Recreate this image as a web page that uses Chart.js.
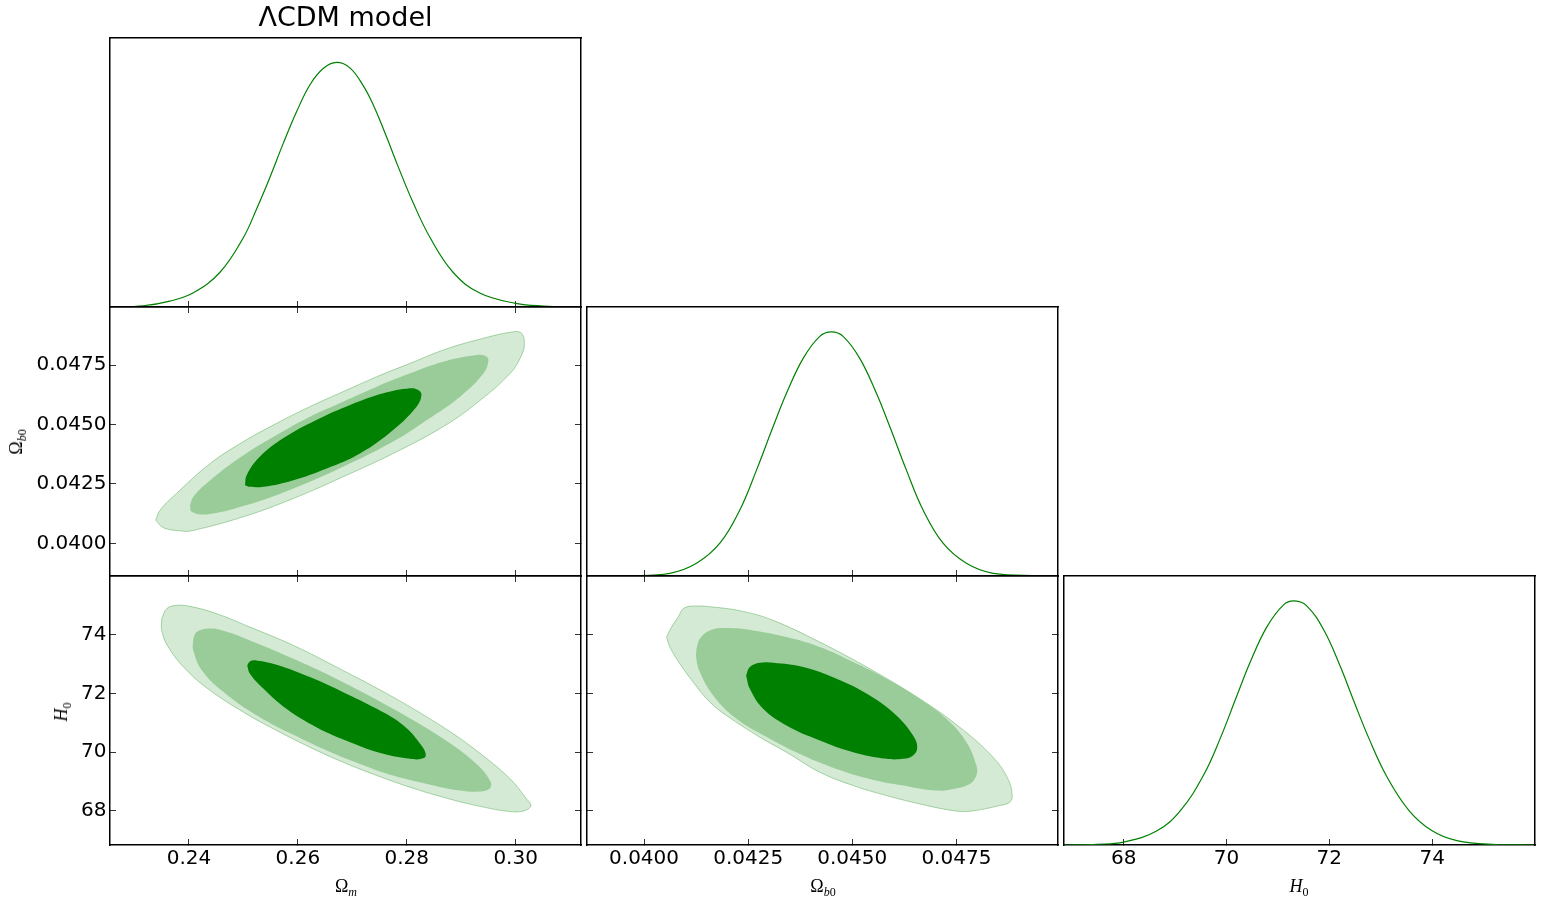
<!DOCTYPE html>
<html>
<head>
<meta charset="utf-8">
<title>ΛCDM model</title>
<script src="https://cdn.jsdelivr.net/npm/chart.js"></script>
<style>
  body { margin: 0; background: #fff; }
  #wrap { position: relative; width: 1545px; height: 911px; overflow: hidden; }
  canvas { position: absolute; }
  .lab { position: absolute; font-family: "Liberation Serif", serif; font-size: 18px; color: #000; white-space: nowrap; transform: translate(-50%, -50%); }
  .lab sub { font-size: 12px; vertical-align: -4px; }
  .rot { transform: translate(-50%, -50%) rotate(-90deg); }
</style>
</head>
<body>
<div id="wrap">
  <canvas id="p11" width="611" height="352" style="left:0px;top:0px"></canvas>
  <canvas id="p21" width="611" height="344" style="left:0px;top:277px"></canvas>
  <canvas id="p22" width="611" height="344" style="left:477px;top:277px"></canvas>
  <canvas id="p31" width="611" height="344" style="left:0px;top:546px"></canvas>
  <canvas id="p32" width="611" height="344" style="left:477px;top:546px"></canvas>
  <canvas id="p33" width="611" height="344" style="left:954px;top:546px"></canvas>
  <div class="lab" style="left:346px;top:888px">Ω<sub><i>m</i></sub></div>
  <div class="lab" style="left:823px;top:888px">Ω<sub><i>b</i>0</sub></div>
  <div class="lab" style="left:1299px;top:888px"><i>H</i><sub>0</sub></div>
  <div class="lab rot" style="left:18px;top:442px">Ω<sub><i>b</i>0</sub></div>
  <div class="lab rot" style="left:63px;top:712px"><i>H</i><sub>0</sub></div>
</div>
<script>
const omTicks = [0.24, 0.26, 0.28, 0.30];
const obTicks = [0.0400, 0.0425, 0.0450, 0.0475];
const h0Ticks = [68, 70, 72, 74];

const omRange = [0.2255, 0.3120];
const obRange = [0.03863, 0.04994];
const h0Range = [66.84, 76.0];
const pdfRange = [0, 1.1];

// 1D marginals (relative density)
const omGrid = [0.2255, 0.2316, 0.2365, 0.2408, 0.2457, 0.2500, 0.2524, 0.2549, 0.2573, 0.2598, 0.2622, 0.2647, 0.2671,
  0.2696, 0.2720, 0.2739, 0.2763, 0.2784, 0.2812, 0.2843, 0.2885, 0.2934, 0.3000, 0.3051, 0.3118];
const omPdf = [0, 0.005, 0.024, 0.058, 0.142, 0.284, 0.400, 0.532, 0.668, 0.800, 0.908, 0.976, 1.0,
  0.977, 0.905, 0.824, 0.695, 0.575, 0.425, 0.283, 0.142, 0.057, 0.015, 0.004, 0];

const obGrid = [0.03866, 0.03966, 0.04062, 0.04126, 0.04182, 0.04230, 0.04270, 0.04310, 0.04342, 0.04382, 0.04422, 0.04450,
  0.04478, 0.04518, 0.04558, 0.04590, 0.04630, 0.04670, 0.04718, 0.04774, 0.04838, 0.04950, 0.04992];
const obPdf = [0, 0.001, 0.011, 0.052, 0.134, 0.270, 0.433, 0.611, 0.747, 0.890, 0.980, 0.998,
  0.980, 0.890, 0.747, 0.611, 0.433, 0.270, 0.134, 0.052, 0.011, 0.001, 0];

const h0Grid = [66.84, 67.48, 68.0, 68.64, 69.10, 69.55, 69.88, 70.20, 70.46, 70.78, 71.11, 71.32,
  71.56, 71.89, 72.21, 72.47, 72.77, 73.12, 73.55, 74.0, 74.48, 75.26, 75.97];
const h0Pdf = [0, 0.003, 0.012, 0.057, 0.140, 0.284, 0.437, 0.609, 0.747, 0.890, 0.982, 0.998,
  0.978, 0.880, 0.732, 0.592, 0.436, 0.279, 0.141, 0.058, 0.018, 0.002, 0];

// 2D credible regions, outlines as [x, y]
const omOb1s = [[0.2503, 0.04245], [0.2512, 0.04238], [0.2537, 0.04238], [0.2592, 0.04266], [0.2653, 0.04315], [0.2714, 0.04378],
  [0.2775, 0.04477], [0.2818, 0.04575], [0.2827, 0.04624], [0.2821, 0.04645], [0.2806, 0.04652], [0.2757, 0.04631],
  [0.2696, 0.04582], [0.2634, 0.04519], [0.2573, 0.04442], [0.2530, 0.04364], [0.2506, 0.04287], [0.2503, 0.04245]];
const omOb2s = [[0.2402, 0.04161], [0.2405, 0.04133], [0.2432, 0.04122], [0.2500, 0.04157], [0.2592, 0.04231], [0.2683, 0.04322],
  [0.2775, 0.04428], [0.2837, 0.04519], [0.2898, 0.04617], [0.2941, 0.04715], [0.2950, 0.04771], [0.2944, 0.04789],
  [0.2928, 0.04792], [0.2867, 0.04764], [0.2806, 0.04715], [0.2745, 0.04659], [0.2683, 0.04596], [0.2622, 0.04533],
  [0.2561, 0.04456], [0.2500, 0.04371], [0.2439, 0.04266], [0.2408, 0.04196], [0.2402, 0.04161]];
const omOb3s = [[0.2339, 0.04098], [0.2353, 0.04066], [0.2387, 0.04052], [0.2405, 0.04053], [0.2500, 0.04112], [0.2592, 0.04189],
  [0.2683, 0.04280], [0.2775, 0.04378], [0.2867, 0.04491], [0.2928, 0.04589], [0.2990, 0.04715], [0.3011, 0.04792],
  [0.3016, 0.04841], [0.3011, 0.04883], [0.2996, 0.04890], [0.2928, 0.04855], [0.2867, 0.04813], [0.2806, 0.04757],
  [0.2745, 0.04701], [0.2683, 0.04638], [0.2622, 0.04575], [0.2561, 0.04505], [0.2500, 0.04428], [0.2439, 0.04336],
  [0.2377, 0.04210], [0.2347, 0.04140], [0.2339, 0.04098]];

const omH01s = [[0.2507, 72.955], [0.2512, 73.091], [0.2524, 73.125], [0.2561, 72.977], [0.2622, 72.557], [0.2683, 72.045],
  [0.2745, 71.477], [0.2794, 70.909], [0.2827, 70.227], [0.2835, 69.886], [0.2827, 69.773], [0.2806, 69.773],
  [0.2757, 69.943], [0.2696, 70.341], [0.2634, 70.852], [0.2579, 71.477], [0.2537, 72.159], [0.2512, 72.670], [0.2507, 72.955]];
const omH02s = [[0.2408, 73.864], [0.2414, 74.091], [0.2432, 74.205], [0.2457, 74.170], [0.2512, 73.807], [0.2592, 73.182],
  [0.2683, 72.386], [0.2775, 71.477], [0.2867, 70.455], [0.2928, 69.602], [0.2953, 69.034], [0.2953, 68.773],
  [0.2934, 68.659], [0.2898, 68.693], [0.2837, 68.920], [0.2775, 69.205], [0.2714, 69.602], [0.2653, 70.057],
  [0.2592, 70.591], [0.2530, 71.193], [0.2469, 71.966], [0.2426, 72.727], [0.2408, 73.466], [0.2408, 73.864]];
const omH03s = [[0.2350, 74.545], [0.2359, 74.886], [0.2377, 75.000], [0.2402, 74.966], [0.2451, 74.716], [0.2512, 74.261],
  [0.2592, 73.636], [0.2683, 72.784], [0.2775, 71.875], [0.2867, 70.852], [0.2928, 70.057], [0.2990, 69.091],
  [0.3020, 68.409], [0.3028, 68.182], [0.3017, 68.011], [0.2990, 67.977], [0.2928, 68.182], [0.2867, 68.466],
  [0.2806, 68.807], [0.2745, 69.205], [0.2683, 69.659], [0.2622, 70.170], [0.2561, 70.739], [0.2500, 71.364],
  [0.2439, 72.102], [0.2396, 72.784], [0.2362, 73.580], [0.2350, 74.148], [0.2350, 74.545]];

const obH01s = [[0.04245, 72.614], [0.04254, 72.898], [0.04278, 73.045], [0.04310, 73.045], [0.04382, 72.898], [0.04462, 72.500],
  [0.04542, 71.932], [0.04606, 71.250], [0.04646, 70.568], [0.04656, 70.170], [0.04646, 69.886], [0.04622, 69.773],
  [0.04582, 69.773], [0.04502, 70.000], [0.04422, 70.398], [0.04342, 70.909], [0.04286, 71.477], [0.04254, 72.159], [0.04245, 72.614]];
const obH02s = [[0.04126, 73.523], [0.04134, 73.864], [0.04158, 74.148], [0.04198, 74.227], [0.04262, 74.148], [0.04342, 73.920],
  [0.04422, 73.580], [0.04502, 73.068], [0.04582, 72.500], [0.04662, 71.818], [0.04726, 71.136], [0.04774, 70.341],
  [0.04798, 69.545], [0.04798, 69.205], [0.04782, 68.920], [0.04742, 68.750], [0.04702, 68.693], [0.04622, 68.864],
  [0.04542, 69.091], [0.04462, 69.432], [0.04382, 69.886], [0.04302, 70.455], [0.04222, 71.136], [0.04166, 71.932],
  [0.04134, 72.727], [0.04125, 73.239], [0.04126, 73.523]];
const obH03s = [[0.04054, 73.920], [0.04066, 74.261], [0.04082, 74.602], [0.04094, 74.886], [0.04118, 74.977], [0.04166, 74.943],
  [0.04238, 74.795], [0.04310, 74.489], [0.04422, 73.750], [0.04542, 72.841], [0.04662, 71.818], [0.04758, 70.852],
  [0.04838, 69.830], [0.04874, 69.091], [0.04884, 68.523], [0.04878, 68.295], [0.04854, 68.182], [0.04782, 67.989],
  [0.04742, 68.011], [0.04662, 68.239], [0.04582, 68.523], [0.04502, 68.864], [0.04422, 69.318], [0.04342, 70.000],
  [0.04278, 70.511], [0.04198, 71.250], [0.04158, 71.705], [0.04118, 72.386], [0.04086, 73.011], [0.04062, 73.580], [0.04054, 73.920]];

const green = '#008000';
const shades = [green, 'rgb(153,204,153)', 'rgb(212,234,212)'];

function axis(position, range, ticks, digits, marks, labels, size) {
    return {
        type: 'linear',
        position: position,
        min: range[0],
        max: range[1],
        z: 1,
        afterBuildTicks: s => { s.ticks = ticks.map(v => ({ value: v })); },
        afterFit: s => {
            if (s.isHorizontal()) { s.height = size; } else { s.width = size; }
        },
        grid: { display: marks, drawOnChartArea: false, drawTicks: marks, tickLength: -6, color: '#333', lineWidth: 1 },
        border: { display: true, color: '#000', width: 1.5 },
        ticks: {
            display: labels,
            autoSkip: false,
            maxRotation: 0,
            padding: position === 'bottom' ? 7.5 : 9.5,
            color: '#000',
            font: { family: 'DejaVu Sans', size: 20 },
            callback: v => v.toFixed(digits)
        }
    };
}

function curve(xs, ys) {
    return [{
        data: xs.map((x, i) => ({ x: x, y: ys[i] })),
        showLine: true,
        fill: false,
        borderColor: green,
        borderWidth: 1.2,
        pointRadius: 0,
        tension: 0.4
    }];
}

function regions(levels) {
    return levels.map((pts, i) => ({
        data: pts,
        showLine: true,
        fill: 'shape',
        backgroundColor: shades[i],
        borderColor: i === 2 ? 'rgba(0,128,0,0.3)' : shades[i],
        borderWidth: i === 2 ? 1 : 0,
        pointRadius: 0,
        tension: 0.4
    }));
}

function drawPanel(id, datasets, scales, title) {
    const ctx = document.getElementById(id).getContext('2d');
    new Chart(ctx, {
        type: 'scatter',
        data: { datasets: datasets },
        options: {
            responsive: false,
            animation: false,
            layout: { padding: { left: 0, right: 30, top: title ? 0 : 30, bottom: 0 } },
            plugins: {
                legend: { display: false },
                tooltip: { enabled: false },
                title: {
                    display: !!title,
                    text: title || '',
                    fullSize: false,
                    color: '#000',
                    font: { family: 'DejaVu Sans', size: 27, weight: 'normal' },
                    padding: { top: 2.5, bottom: 3.1 }
                }
            },
            scales: scales
        }
    });
}

function init() {
    drawPanel('p11', curve(omGrid, omPdf), {
        x: axis('bottom', omRange, omTicks, 2, true, false, 45),
        x2: axis('top', omRange, omTicks, 2, false, false, 0),
        y: axis('left', pdfRange, [0, 1], 1, false, false, 110),
        y2: axis('right', pdfRange, [0, 1], 1, false, false, 0)
    }, 'ΛCDM model');

    drawPanel('p21', regions([omOb1s, omOb2s, omOb3s]), {
        x: axis('bottom', omRange, omTicks, 2, true, false, 45),
        x2: axis('top', omRange, omTicks, 2, true, false, 0),
        y: axis('left', obRange, obTicks, 4, true, true, 110),
        y2: axis('right', obRange, obTicks, 4, true, false, 0)
    });

    drawPanel('p22', curve(obGrid, obPdf), {
        x: axis('bottom', obRange, obTicks, 4, true, false, 45),
        x2: axis('top', obRange, obTicks, 4, false, false, 0),
        y: axis('left', pdfRange, [0, 1], 1, false, false, 110),
        y2: axis('right', pdfRange, [0, 1], 1, false, false, 0)
    });

    drawPanel('p31', regions([omH01s, omH02s, omH03s]), {
        x: axis('bottom', omRange, omTicks, 2, true, true, 45),
        x2: axis('top', omRange, omTicks, 2, true, false, 0),
        y: axis('left', h0Range, h0Ticks, 0, true, true, 110),
        y2: axis('right', h0Range, h0Ticks, 0, true, false, 0)
    });

    drawPanel('p32', regions([obH01s, obH02s, obH03s]), {
        x: axis('bottom', obRange, obTicks, 4, true, true, 45),
        x2: axis('top', obRange, obTicks, 4, true, false, 0),
        y: axis('left', h0Range, h0Ticks, 0, true, false, 110),
        y2: axis('right', h0Range, h0Ticks, 0, true, false, 0)
    });

    drawPanel('p33', curve(h0Grid, h0Pdf), {
        x: axis('bottom', h0Range, h0Ticks, 0, true, true, 45),
        x2: axis('top', h0Range, h0Ticks, 0, false, false, 0),
        y: axis('left', pdfRange, [0, 1], 1, false, false, 110),
        y2: axis('right', pdfRange, [0, 1], 1, false, false, 0)
    });
}

window.onload = init;
</script>
</body>
</html>
